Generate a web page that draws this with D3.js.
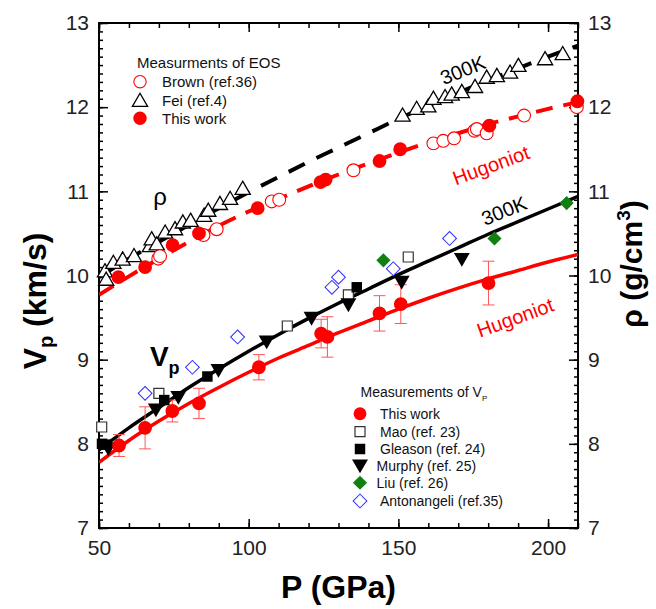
<!DOCTYPE html>
<head>
  <meta charset="utf-8">
  <script src="https://d3js.org/d3.v7.min.js"></script>
  <style>
    body { margin:0; background:#fff; }
    text { font-family: 'Liberation Sans', Arial, sans-serif; }
    .axis path { display: none; }
    .axis line { stroke: #000; stroke-width: 1.5; }
    .axis text { font-size: 21px; fill: #222; }
    .legend text { fill: #111; }
  </style>
</head>
<body>
<script>
// ---- data (P in GPa, Vp in km/s, rho in g/cm3) ----
// Vp, this work: [P, Vp, error]
var vpThisWork = [[56.7,7.98,0.13],[65.4,8.19,0.25],[74.5,8.39,0.13],[83.4,8.48,0.18],[103.4,8.91,0.15],
  [124.2,9.31,0.17],[126.3,9.27,0.24],[143.7,9.55,0.21],[150.8,9.66,0.23],[180.1,9.91,0.26]];
var vpMao = [[50.9,8.20],[70.0,8.60],[112.9,9.40],[133.3,9.77],[153.3,10.22]];
var vpGleason = [[51.0,8.00],[52.5,7.99],[71.8,8.52],[86.2,8.80],[136.1,9.86]];
var vpMurphy = [[53.1,7.94],[69.0,8.40],[76.5,8.55],[89.9,8.87],[106.0,9.21],[121.0,9.49],[133.3,9.65],[151.1,9.92],[171.2,10.19]];
var vpLiu = [[145.0,10.18],[182.1,10.44],[206.2,10.86]];
var vpAntonangeli = [[65.4,8.60],[81.2,8.91],[96.3,9.27],[127.8,9.86],[130.0,9.98],[148.3,10.08],[167.1,10.44]];

// fitted curves
var vp300K = [[50,7.93],[60,8.19],[70,8.43],[80,8.67],[90,8.89],[100,9.10],[110,9.30],[120,9.49],[130,9.67],
  [140,9.84],[150,10.01],[160,10.17],[170,10.33],[180,10.49],[190,10.64],[200,10.79],[210,10.94]];
var vpHugoniot = [[50,7.78],[60,8.04],[70,8.27],[80,8.48],[90,8.67],[100,8.85],[110,9.02],[120,9.17],[130,9.32],
  [140,9.46],[150,9.60],[160,9.73],[170,9.85],[180,9.96],[190,10.06],[200,10.16],[210,10.25]];

// density
var rhoFei = [[52.0,10.06],[52.4,9.96],[54.8,10.16],[57.9,10.20],[61.7,10.24],[67.0,10.36],[67.6,10.44],[69.3,10.38],
  [72.1,10.52],[75.4,10.56],[78.0,10.64],[80.6,10.66],[85.1,10.72],[86.5,10.78],[90.4,10.86],[93.8,10.92],[98.0,11.04],
  [151.4,11.91],[156.1,11.99],[160.0,12.02],[161.7,12.11],[165.6,12.13],[167.8,12.16],[171.2,12.19],[175.6,12.25],
  [179.5,12.36],[182.9,12.38],[187.3,12.42],[190.1,12.50],[199.0,12.58],[204.9,12.64]];
var rhoBrown = [[69.8,10.20],[70.4,10.23],[84.9,10.48],[89.3,10.55],[107.7,10.88],[110.2,10.90],[135.0,11.25],
  [161.7,11.57],[165.0,11.60],[168.6,11.63],[175.4,11.72],[176.2,11.74],[179.5,11.69],[192.0,11.90],[209.6,12.00]];
var rhoThisWork = [[56.5,9.98],[65.4,10.10],[74.6,10.36],[83.4,10.50],[103.0,10.80],[124.0,11.11],[125.7,11.14],
  [143.7,11.36],[150.6,11.50],[180.4,11.78],[209.8,12.07]];
var rho300K = [[50,9.98],[60,10.20],[70,10.40],[80,10.60],[90,10.80],[100,10.99],[110,11.17],[120,11.35],[130,11.52],
  [140,11.69],[150,11.86],[160,12.02],[170,12.17],[180,12.32],[190,12.46],[200,12.60],[210,12.73]];
var rhoHugoniot = [[50,9.77],[60,9.99],[70,10.20],[80,10.40],[90,10.59],[100,10.76],[110,10.91],[120,11.06],[130,11.20],
  [140,11.33],[150,11.46],[160,11.58],[170,11.69],[180,11.80],[190,11.89],[200,11.98],[210,12.06]];

var xMajor = [50, 100, 150, 200];
var xMinor = d3.range(50, 211, 10);
var yMajor = d3.range(7, 14);
var yMinor = d3.range(70, 131).map(d => d / 10);

// ---- layout ----
var margin = {top: 23, right: 78, bottom: 81, left: 99};
var width = 656 - margin.left - margin.right,
    height = 609 - margin.top - margin.bottom;

var svgRoot = d3.select("body").append("svg")
    .attr("width", 656)
    .attr("height", 609);
var svg = svgRoot.append("g")
    .attr("transform", "translate(" + margin.left + "," + margin.top + ")");

var x = d3.scaleLinear().domain([50, 210]).range([0, width]);
var y = d3.scaleLinear().domain([7, 13]).range([height, 0]);

svg.append("defs").append("clipPath").attr("id", "clip")
  .append("rect").attr("width", width).attr("height", height);

// axes: minor + major ticks, all pointing inward
function addAxis(axisFn, vals, size, labels, transform) {
  var a = axisFn(x).tickValues(vals).tickSize(-size).tickPadding(12);
  if (axisFn === d3.axisLeft || axisFn === d3.axisRight) a = axisFn(y).tickValues(vals).tickSize(-size).tickPadding(10);
  if (!labels) a.tickFormat("");
  else a.tickFormat(d3.format("d"));
  svg.append("g").attr("class", "axis").attr("transform", transform).call(a);
}
addAxis(d3.axisBottom, xMinor, 5, false, "translate(0," + height + ")");
addAxis(d3.axisBottom, xMajor, 9, true, "translate(0," + height + ")");
addAxis(d3.axisTop, xMinor, 5, false, "translate(0,0)");
addAxis(d3.axisTop, xMajor, 9, false, "translate(0,0)");
addAxis(d3.axisLeft, yMinor, 4, false, "translate(0,0)");
addAxis(d3.axisLeft, yMajor, 9, true, "translate(0,0)");
addAxis(d3.axisRight, yMinor, 4, false, "translate(" + width + ",0)");
addAxis(d3.axisRight, yMajor, 9, true, "translate(" + width + ",0)");

svg.append("rect")
  .attr("width", width).attr("height", height)
  .attr("fill", "none").attr("stroke", "#000").attr("stroke-width", 2);

// ---- curves ----
var line = d3.line()
  .x(d => x(d[0]))
  .y(d => y(d[1]))
  .curve(d3.curveMonotoneX);

var curves = svg.append("g").attr("clip-path", "url(#clip)");
function curve(data, color, w, dash) {
  curves.append("path")
    .attr("d", line(data))
    .attr("fill", "none")
    .attr("stroke", color)
    .attr("stroke-width", w)
    .attr("stroke-dasharray", dash || null);
}
curve(rho300K, "#000", 4, "18,13");
curve(rhoHugoniot, "#ff0000", 4, "17,11");
curve(vp300K, "#000", 3.5);
curve(vpHugoniot, "#ff0000", 3.5);

// error bars
var err = svg.append("g").attr("stroke", "#ff5555").attr("stroke-width", 1);
vpThisWork.forEach(function(d) {
  var x0 = x(d[0]), y1 = y(d[1] + d[2]), y2 = y(d[1] - d[2]);
  err.append("line").attr("x1", x0).attr("x2", x0).attr("y1", y1).attr("y2", y2);
  err.append("line").attr("x1", x0 - 6).attr("x2", x0 + 6).attr("y1", y1).attr("y2", y1);
  err.append("line").attr("x1", x0 - 6).attr("x2", x0 + 6).attr("y1", y2).attr("y2", y2);
});

// ---- markers ----
var shapes = {
  circle: {type: d3.symbolCircle, rot: 0},
  triangle: {type: d3.symbolTriangle, rot: 0},
  triDown: {type: d3.symbolTriangle, rot: 180},
  square: {type: d3.symbolSquare, rot: 0},
  diamond: {type: d3.symbolSquare, rot: 45}
};
function marker(g, shape, size, fill, stroke, sw) {
  return g.append("path")
    .attr("d", d3.symbol().type(shapes[shape].type).size(size)())
    .attr("fill", fill)
    .attr("stroke", stroke)
    .attr("stroke-width", sw);
}
function points(data, shape, size, fill, stroke, sw) {
  var g = svg.append("g");
  data.forEach(function(d) {
    var offs = shape === "triDown" ? -2 : (shape === "triangle" ? 2 : 0);
    marker(g, shape, size, fill, stroke, sw)
      .attr("transform", "translate(" + x(d[0]) + "," + (y(d[1]) + offs) + ") rotate(" + shapes[shape].rot + ")");
  });
}
points(rhoFei, "triangle", 100, "#fff", "#000", 1.3);
points(rhoBrown, "circle", 130, "#fff", "#ff0000", 1.1);
points(rhoThisWork, "circle", 150, "#ff0000", "#ff0000", 0);

points(vpMao, "square", 100, "#fff", "#333", 1.2);
points(vpGleason, "square", 110, "#000", "#000", 0);
points(vpMurphy, "triDown", 110, "#000", "#000", 0);
points(vpLiu, "diamond", 100, "#118011", "#118011", 0);
points(vpAntonangeli, "diamond", 95, "#fff", "#2b2bff", 1);
points(vpThisWork, "circle", 150, "#ff0000", "#ff0000", 0);

// ---- legends ----
var leg1 = svg.append("g").attr("class", "legend");
leg1.append("text").attr("x", 38).attr("y", 45).style("font-size", "15px").text("Measurments of EOS");
var eosItems = [["circle", 120, "#fff", "#ff0000", 1.1, "Brown (ref.36)"],
                ["triangle", 100, "#fff", "#000", 1.3, "Fei (ref.4)"],
                ["circle", 140, "#ff0000", "#ff0000", 0, "This work"]];
eosItems.forEach(function(it, i) {
  var yy = 58.7 + i * 18.3;
  marker(leg1, it[0], it[1], it[2], it[3], it[4]).attr("transform", "translate(41," + (yy + (it[0] === "triangle" ? 2 : 0)) + ")");
  leg1.append("text").attr("x", 63).attr("y", yy + 5.5).style("font-size", "15px").text(it[5]);
});

var leg2 = svg.append("g").attr("class", "legend");
var t2 = leg2.append("text").attr("x", 261.5).attr("y", 374).style("font-size", "14px");
t2.append("tspan").text("Measurements of V");
t2.append("tspan").attr("dy", 4).style("font-size", "8px").text("P");
var vpItems = [["circle", 130, "#ff0000", "#ff0000", 0, "This work", 281],
               ["square", 100, "#fff", "#333", 1.2, "Mao (ref. 23)", 281],
               ["square", 110, "#000", "#000", 0, "Gleason (ref. 24)", 281],
               ["triDown", 110, "#000", "#000", 0, "Murphy (ref. 25)", 277.5],
               ["diamond", 100, "#118011", "#118011", 0, "Liu (ref. 26)", 277.5],
               ["diamond", 95, "#fff", "#2b2bff", 1, "Antonangeli (ref.35)", 281]];
var vpRows = [390.7, 408.7, 426, 443, 459.7, 478];
vpItems.forEach(function(it, i) {
  var yy = vpRows[i];
  var offs = it[0] === "triDown" ? -2 : 0;
  marker(leg2, it[0], it[1], it[2], it[3], it[4])
    .attr("transform", "translate(261," + (yy + offs) + ") rotate(" + shapes[it[0]].rot + ")");
  leg2.append("text").attr("x", it[6]).attr("y", yy + 5).style("font-size", "14px").text(it[5]);
});

// ---- annotations (placed in data coordinates) ----
function note(P, v, txt, color, size, angle) {
  return svg.append("text")
    .attr("transform", "translate(" + x(P) + "," + y(v) + ") rotate(" + angle + ")")
    .attr("text-anchor", "middle")
    .attr("dominant-baseline", "central")
    .style("font-size", size + "px")
    .style("fill", color)
    .text(txt);
}
note(171.5, 12.44, "300K", "#000", 20, -22);
note(180.9, 11.31, "Hugoniot", "#ff0000", 20, -20);
note(185.3, 10.77, "300K", "#000", 20, -22);
note(189.0, 9.50, "Hugoniot", "#ff0000", 20, -20);
note(70.4, 10.94, "\u03c1", "#000", 24, 0);

var vpNote = svg.append("text")
  .attr("x", x(67.0)).attr("y", y(8.92))
  .style("font-size", "28px").style("font-weight", "bold");
vpNote.append("tspan").text("V");
vpNote.append("tspan").attr("dy", 8).style("font-size", "18px").text("p");

// ---- axis titles ----
svgRoot.append("text")
  .attr("x", margin.left + width / 2).attr("y", 598)
  .attr("text-anchor", "middle")
  .style("font-size", "32px").style("font-weight", "bold")
  .text("P (GPa)");

var yl = svgRoot.append("text")
  .attr("transform", "translate(46,301) rotate(-90)")
  .attr("text-anchor", "middle")
  .style("font-size", "32px").style("font-weight", "bold");
yl.append("tspan").text("V");
yl.append("tspan").attr("dy", 7).style("font-size", "20px").text("p");
yl.append("tspan").attr("dy", -7).text(" (km/s)");

var yr = svgRoot.append("text")
  .attr("transform", "translate(642,264) rotate(-90)")
  .attr("text-anchor", "middle")
  .style("font-size", "30px").style("font-weight", "bold");
yr.append("tspan").text("\u03c1 (g/cm");
yr.append("tspan").attr("dy", -12).style("font-size", "19px").text("3");
yr.append("tspan").attr("dy", 12).text(")");
</script>
</body>
